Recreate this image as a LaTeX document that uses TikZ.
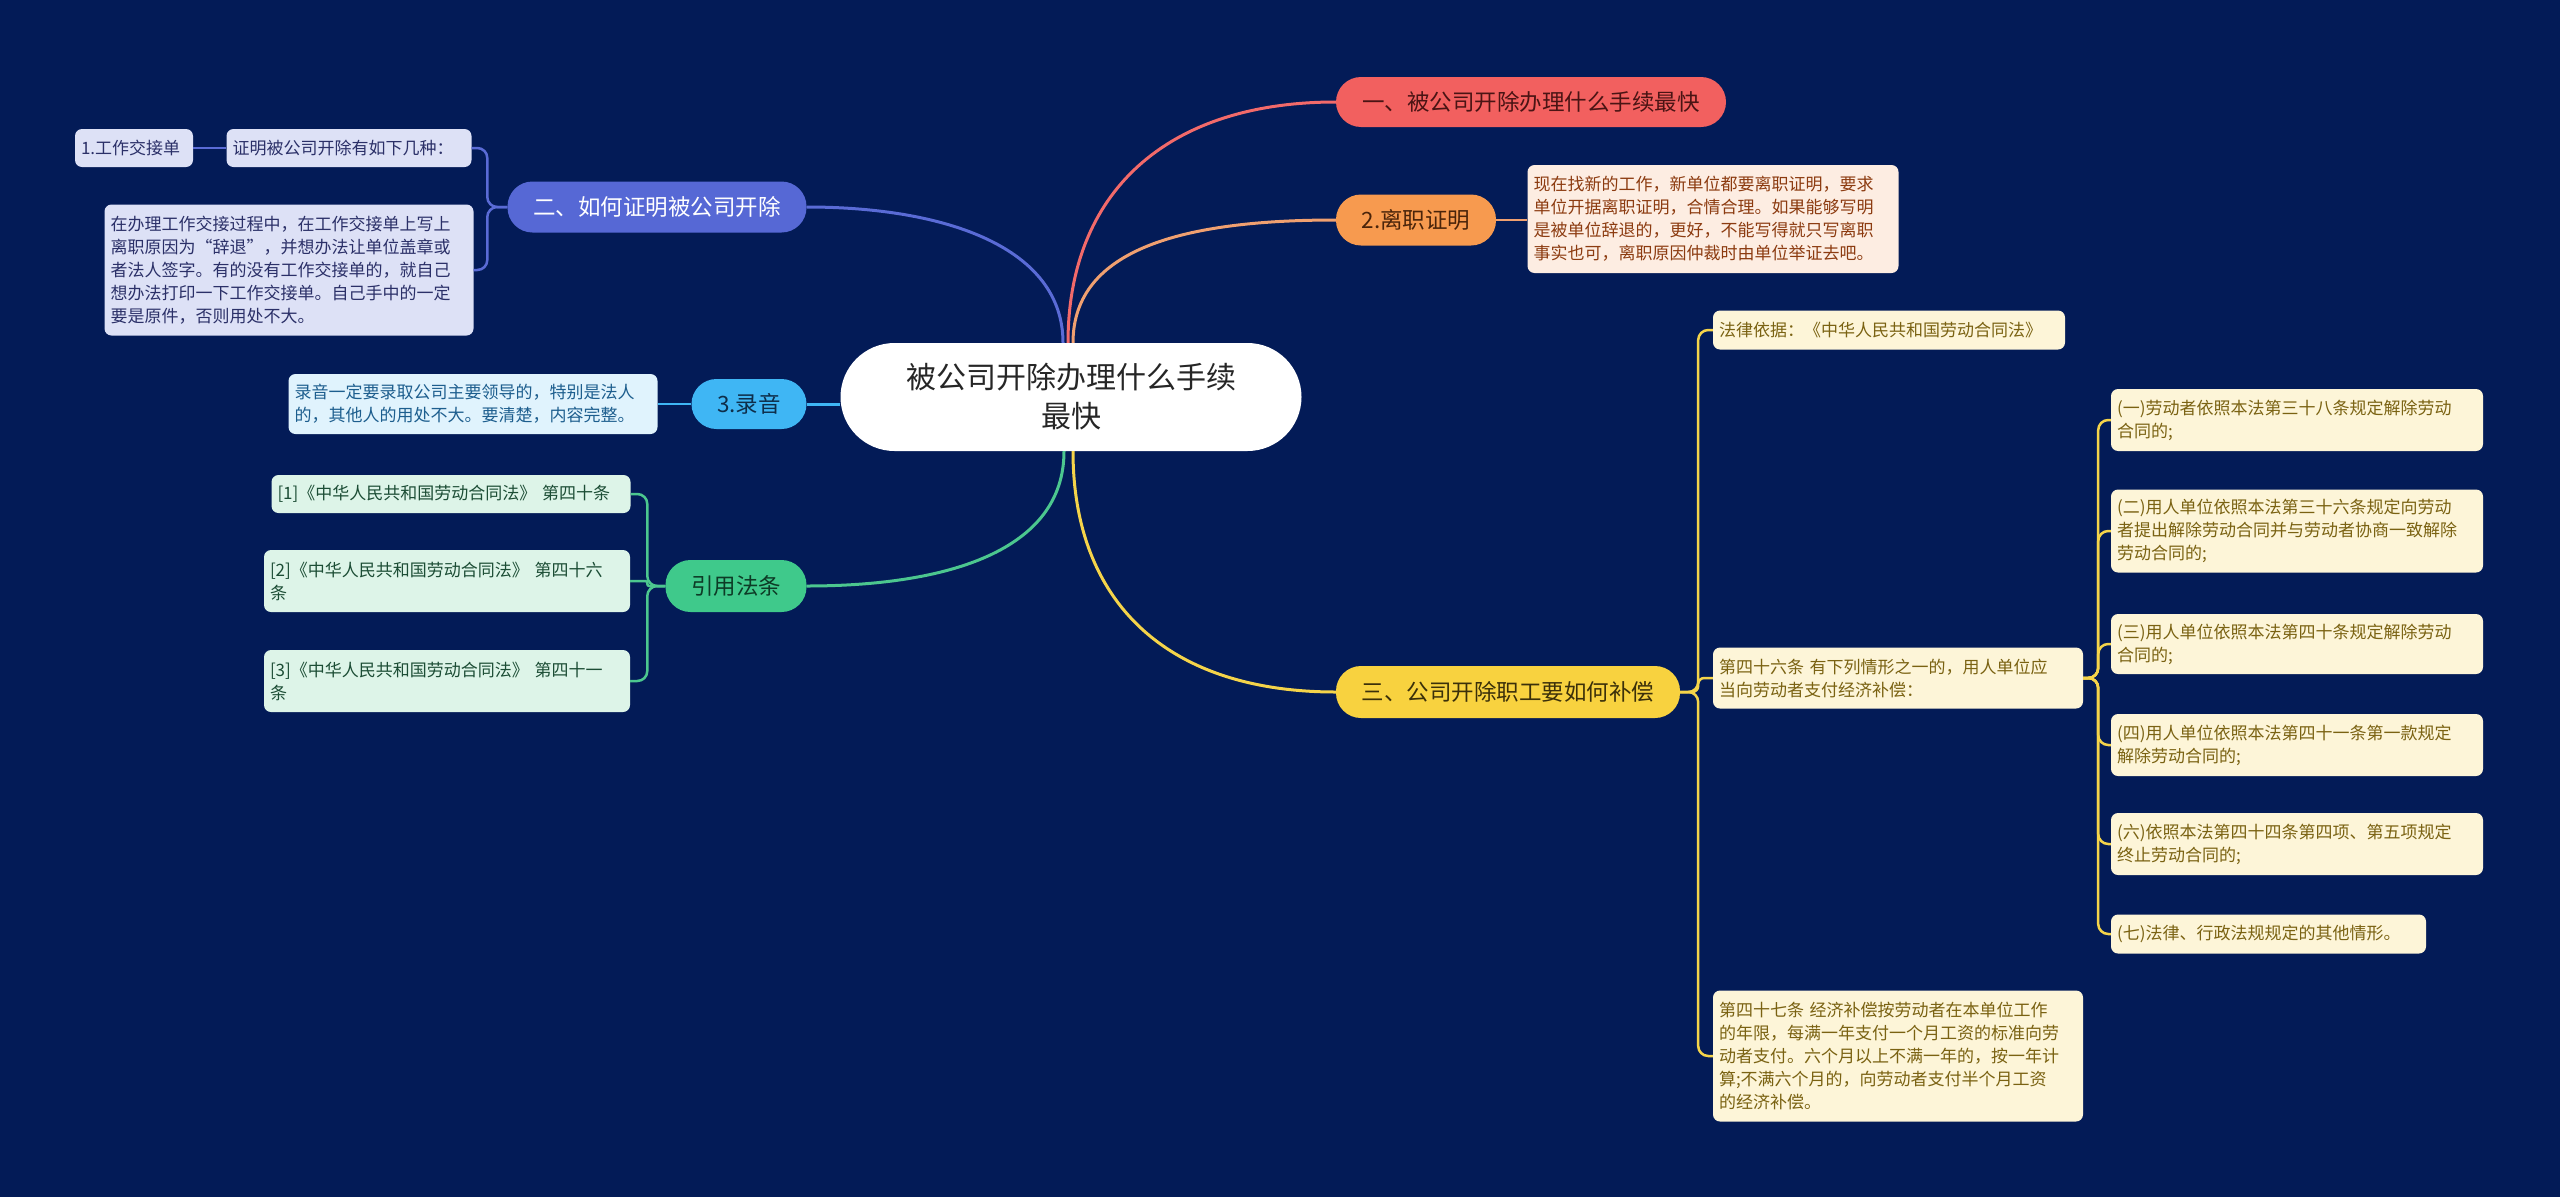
\documentclass[tikz,border=0pt]{standalone}
\usepackage{fontspec}
\newfontfamily\cjk{Noto Sans CJK SC}
\usetikzlibrary{calc}
\definecolor{bg}{HTML}{031B57}
\definecolor{redf}{HTML}{F2605F}\definecolor{redt}{HTML}{4A1414}\definecolor{redl}{HTML}{F26A6A}
\definecolor{orgf}{HTML}{F79A4F}\definecolor{orgt}{HTML}{4A240A}\definecolor{orgl}{HTML}{F0A070}
\definecolor{orgd}{HTML}{FDEDE2}\definecolor{orgdt}{HTML}{8C3B10}
\definecolor{ylwf}{HTML}{F8D23F}\definecolor{ylwt}{HTML}{3B300A}\definecolor{ylwl}{HTML}{F5D44A}
\definecolor{ylwd}{HTML}{FDF5D8}\definecolor{ylwdt}{HTML}{7A6212}
\definecolor{bluf}{HTML}{5668D5}\definecolor{blul}{HTML}{5A6BD6}
\definecolor{blud}{HTML}{DDE1F6}\definecolor{bludt}{HTML}{2B3068}
\definecolor{lbf}{HTML}{3FB6F4}\definecolor{lbt}{HTML}{0E2E4A}
\definecolor{lbd}{HTML}{E0F3FD}\definecolor{lbdt}{HTML}{1D5E8E}
\definecolor{grf}{HTML}{3FC98B}\definecolor{grt}{HTML}{0D3B26}\definecolor{grl}{HTML}{4CC78F}
\definecolor{grd}{HTML}{DDF4E8}\definecolor{grdt}{HTML}{1C4D35}
\begin{document}
\begin{tikzpicture}[x=1pt,y=-1pt,
  every node/.style={inner sep=0pt},
  pill/.style={rounded corners=25pt, align=center, font=\cjk\fontsize{22.5}{27}\selectfont},
  leaf/.style={rounded corners=7pt, align=left, inner xsep=6pt, font=\cjk\fontsize{17}{23}\selectfont},
  mainln/.style={line width=3pt},
  subln/.style={line width=2.5pt, rounded corners=10pt},
]
\fill[bg] (0,0) rectangle (2560,1197);
\useasboundingbox (0,0) rectangle (2560,1197);

% center
\node[fill=white, rounded corners=54pt, minimum width=461pt, minimum height=108pt, align=center,
  text=black!85, font=\cjk\fontsize{30}{39}\selectfont] (c) at (1071,397) {被公司开除办理什么手续\\最快};

% right branches
\node[pill, fill=redf, text=redt, minimum width=390pt, minimum height=50pt] (b1) at (1531,102) {一、被公司开除办理什么手续最快};
\node[pill, fill=orgf, text=orgt, minimum width=160pt, minimum height=51pt] (b2) at (1416,220) {2.离职证明};
\node[leaf, fill=orgd, text=orgdt, text width=359pt, minimum height=108pt] (d2) at (1713,219)
  {现在找新的工作，新单位都要离职证明，要求\\单位开据离职证明，合情合理。如果能够写明\\是被单位辞退的，更好，不能写得就只写离职\\事实也可，离职原因仲裁时由单位举证去吧。};
\node[pill, fill=ylwf, text=ylwt, minimum width=344pt, minimum height=52pt] (b3) at (1508,692) {三、公司开除职工要如何补偿};

\node[leaf, fill=ylwd, text=ylwdt, text width=340pt, minimum height=39pt] (k1) at (1889,330) {法律依据：《中华人民共和国劳动合同法》};
\node[leaf, fill=ylwd, text=ylwdt, text width=358pt, minimum height=61pt] (k2) at (1898,678) {第四十六条 有下列情形之一的，用人单位应\\当向劳动者支付经济补偿：};
\node[leaf, fill=ylwd, text=ylwdt, text width=358pt, minimum height=131pt] (k3) at (1898,1056) {第四十七条 经济补偿按劳动者在本单位工作\\的年限，每满一年支付一个月工资的标准向劳\\动者支付。六个月以上不满一年的，按一年计\\算;不满六个月的，向劳动者支付半个月工资\\的经济补偿。};

\node[leaf, fill=ylwd, text=ylwdt, text width=360pt, minimum height=62pt] (m1) at (2297,420) {(一)劳动者依照本法第三十八条规定解除劳动\\合同的;};
\node[leaf, fill=ylwd, text=ylwdt, text width=360pt, minimum height=83pt] (m2) at (2297,531) {(二)用人单位依照本法第三十六条规定向劳动\\者提出解除劳动合同并与劳动者协商一致解除\\劳动合同的;};
\node[leaf, fill=ylwd, text=ylwdt, text width=360pt, minimum height=60pt] (m3) at (2297,644) {(三)用人单位依照本法第四十条规定解除劳动\\合同的;};
\node[leaf, fill=ylwd, text=ylwdt, text width=360pt, minimum height=62pt] (m4) at (2297,745) {(四)用人单位依照本法第四十一条第一款规定\\解除劳动合同的;};
\node[leaf, fill=ylwd, text=ylwdt, text width=360pt, minimum height=62pt] (m5) at (2297,844) {(六)依照本法第四十四条第四项、第五项规定\\终止劳动合同的;};
\node[leaf, fill=ylwd, text=ylwdt, text width=303pt, minimum height=39pt] (m6) at (2268.5,934) {(七)法律、行政法规规定的其他情形。};

% left branches
\node[pill, fill=bluf, text=white, minimum width=299pt, minimum height=51pt] (L2) at (657,207) {二、如何证明被公司开除};
\node[leaf, fill=blud, text=bludt, text width=233pt, minimum height=38pt] (e1) at (349,148) {证明被公司开除有如下几种：};
\node[leaf, fill=blud, text=bludt, text width=106pt, minimum height=38pt] (e0) at (134,148) {1.工作交接单};
\node[leaf, fill=blud, text=bludt, text width=357pt, minimum height=131pt] (e2) at (289,270) {在办理工作交接过程中，在工作交接单上写上\\离职原因为“辞退”，并想办法让单位盖章或\\者法人签字。有的没有工作交接单的，就自己\\想办法打印一下工作交接单。自己手中的一定\\要是原件，否则用处不大。};

\node[pill, fill=lbf, text=lbt, minimum width=115pt, minimum height=50pt] (L3) at (749,404) {3.录音};
\node[leaf, fill=lbd, text=lbdt, text width=357pt, minimum height=60pt] (f1) at (473,404) {录音一定要录取公司主要领导的，特别是法人\\的，其他人的用处不大。要清楚，内容完整。};

\node[pill, fill=grf, text=grt, minimum width=141pt, minimum height=52pt] (L4) at (736,586) {引用法条};
\node[leaf, fill=grd, text=grdt, text width=347pt, minimum height=38pt] (g1) at (451,494) {[1]《中华人民共和国劳动合同法》 第四十条};
\node[leaf, fill=grd, text=grdt, text width=354pt, minimum height=62pt] (g2) at (447,581) {[2]《中华人民共和国劳动合同法》 第四十六\\条};
\node[leaf, fill=grd, text=grdt, text width=354pt, minimum height=62pt] (g3) at (447,681) {[3]《中华人民共和国劳动合同法》 第四十一\\条};

% main connectors
\draw[mainln, redl] ($(c.north)+(-3,0)$) .. controls +(0,-150) and +(-170,0) .. (b1.west);
\draw[mainln, orgl] ($(c.north)+(2,0)$) .. controls +(0,-95) and +(-150,0) .. (b2.west);
\draw[mainln, ylwl] ($(c.south)+(2,0)$) .. controls +(0,150) and +(-170,0) .. (b3.west);
\draw[mainln, blul] ($(c.north)+(-8,0)$) .. controls +(0,-95) and +(140,0) .. (L2.east);
\draw[mainln, lbf] (L3.east) -- (L3.east -| c.west);
\draw[mainln, grl] ($(c.south)+(-7,0)$) .. controls +(0,100) and +(140,0) .. (L4.east);

% sub connectors
\draw[subln, orgl] (b2.east) -- (d2.west |- b2.east);
\draw[subln, ylwl] (b3.east) -- ++(18,0) |- (k1.west);
\draw[subln, ylwl, rounded corners=6pt] (b3.east) -- ++(18,0) |- (k2.west);
\draw[subln, ylwl] (b3.east) -- ++(18,0) |- (k3.west);
\foreach \m in {m1,m2,m3,m4,m5,m6}
  \draw[subln, ylwl] (k2.east) -- ++(15,0) |- (\m.west);
\draw[subln, blul] (L2.west) -- ++(-20,0) |- (e1.east);
\draw[subln, blul] (L2.west) -- ++(-20,0) |- (e2.east);
\draw[subln, blul] (e1.west) -- (e0.east);
\draw[subln, lbf] (L3.west) -- (f1.east);
\draw[subln, grl] (L4.west) -- ++(-18,0) |- (g1.east);
\draw[subln, grl, rounded corners=2pt] (L4.west) -- ++(-18,0) |- (g2.east);
\draw[subln, grl] (L4.west) -- ++(-18,0) |- (g3.east);
\end{tikzpicture}
\end{document}
